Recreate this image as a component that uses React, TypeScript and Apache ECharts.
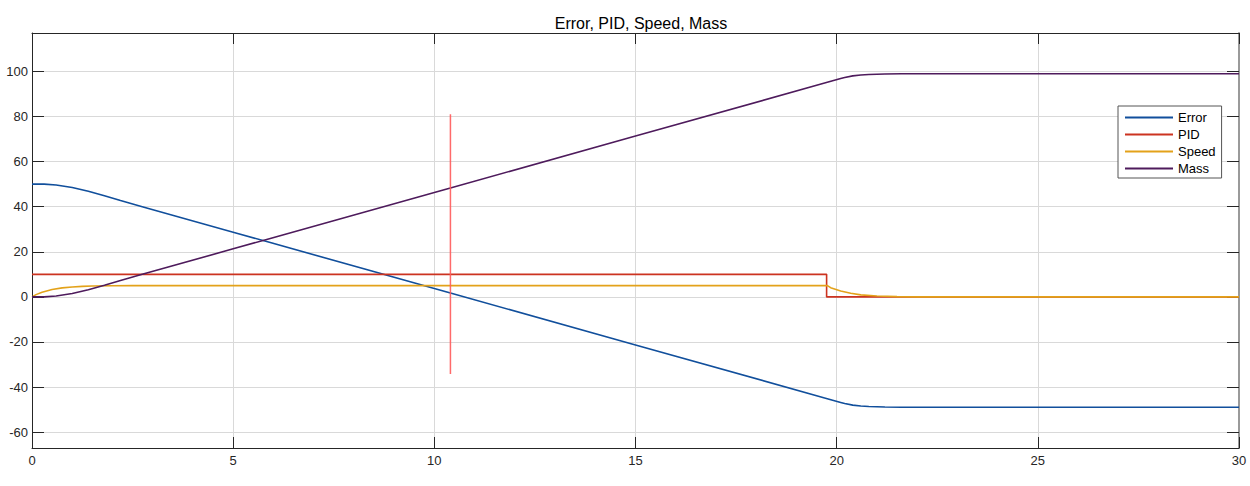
import React, { useEffect, useRef } from "react";
import * as echarts from "echarts";

const TITLE = "Error, PID, Speed, Mass";
const SERIES_NAMES = ["Error", "PID", "Speed", "Mass"];
const COLORS = ["#114f9c", "#cc3320", "#e3a21a", "#4e1b5c"];

const xTicks = [0, 5, 10, 15, 20, 25, 30];
const yTicks = [-60, -40, -20, 0, 20, 40, 60, 80, 100];

const errorTime = [0, 0.3, 0.6, 1.0, 1.4, 1.8, 2.2, 2.74, 5, 5.9, 10, 10.4, 15, 19.7, 19.9, 20.1, 20.2, 20.4, 20.6, 20.8, 21.2, 21.6, 30];
const errorValues = [50, 50, 49.6, 48.5, 46.8, 44.8, 42.7, 40, 28.7, 24.2, 3.7, 1.7, -21.3, -44.8, -45.8, -46.8, -47.3, -48.0, -48.4, -48.6, -48.8, -48.9, -48.9];

const pidTime = [0, 19.75, 19.75, 30];
const pidValues = [10, 10, 0, 0];

const speedTime = [0, 0.1, 0.25, 0.5, 0.75, 1.0, 1.25, 1.5, 2.0, 2.5, 19.77, 19.85, 20.1, 20.35, 20.6, 21.0, 21.5, 22, 30];
const speedValues = [0, 1.0, 2.1, 3.3, 4.0, 4.4, 4.65, 4.8, 4.93, 5, 5, 4.1, 2.6, 1.6, 0.9, 0.4, 0.1, 0, 0];

const massTime = [0, 0.3, 0.6, 1.0, 1.4, 1.8, 2.2, 2.74, 5, 5.9, 10, 10.4, 15, 19.7, 19.9, 20.1, 20.2, 20.4, 20.6, 20.8, 21.2, 21.6, 30];
const massValues = [0, 0, 0.4, 1.5, 3.2, 5.2, 7.3, 10, 21.3, 25.8, 46.3, 48.3, 71.3, 94.8, 95.8, 96.8, 97.3, 98.0, 98.4, 98.6, 98.8, 98.9, 98.9];

const cursorTime = [10.4, 10.4];
const cursorValues = [81, -34.2];

const X_MIN = 0;
const X_MAX = 30;
const Y_MIN = -67;
const Y_MAX = 117;

const pairs = (t: number[], v: number[]) => t.map((x, i) => [x, v[i]]);

const FONT = "'Liberation Sans', Arial, sans-serif";
const DARK = "#262626";

export default function App() {
  const ref = useRef<HTMLDivElement>(null);
  useEffect(() => {
    if (!ref.current) return;
    const chart = echarts.init(ref.current, undefined, { renderer: "svg" });
    const lineSeries = (name: string, t: number[], v: number[], color: string) => ({
      name,
      type: "line",
      data: pairs(t, v),
      showSymbol: false,
      symbol: "none",
      smooth: false,
      lineStyle: { color, width: 1.6 },
      itemStyle: { color },
      xAxisIndex: 0,
      yAxisIndex: 0,
    });
    chart.setOption({
      animation: false,
      backgroundColor: "#ffffff",
      textStyle: { fontFamily: FONT },
      title: {
        text: TITLE,
        left: 636,
        top: 10,
        textAlign: "center",
        textStyle: { fontSize: 16, fontWeight: "normal", color: "#000", fontFamily: FONT },
      },
      legend: {
        data: SERIES_NAMES,
        orient: "vertical",
        left: 1118,
        top: 106,
        itemWidth: 48,
        itemHeight: 13,
        itemGap: 4,
        padding: [5, 6, 3, 6],
        borderColor: "#555",
        borderWidth: 1,
        borderRadius: 0,
        backgroundColor: "#fff",
        itemStyle: { opacity: 0, borderWidth: 0 },
        textStyle: { fontSize: 13, color: "#000", fontFamily: FONT },
      },
      grid: { left: 32, right: 11, top: 33, bottom: 38, containLabel: false },
      xAxis: [
        {
          type: "value",
          min: X_MIN,
          max: X_MAX,
          interval: 5,
          position: "bottom",
          axisLine: { show: true, onZero: false, lineStyle: { color: DARK, width: 1 } },
          axisTick: { show: true, inside: true, length: 11, lineStyle: { color: DARK } },
          axisLabel: {
            customValues: xTicks,
            fontSize: 13,
            color: DARK,
            margin: 6,
            fontFamily: FONT,
          },
          splitLine: { show: true, lineStyle: { color: "#d9d9d9", width: 1 } },
        },
        {
          type: "value",
          min: X_MIN,
          max: X_MAX,
          interval: 5,
          position: "top",
          axisLine: { show: true, onZero: false, lineStyle: { color: DARK, width: 1 } },
          axisTick: { show: true, inside: true, length: 11, lineStyle: { color: DARK } },
          axisLabel: { show: false },
          splitLine: { show: false },
        },
      ],
      yAxis: [
        {
          type: "value",
          min: Y_MIN,
          max: Y_MAX,
          splitNumber: 9,
          position: "left",
          axisLine: { show: true, onZero: false, lineStyle: { color: DARK, width: 1 } },
          axisTick: { show: true, inside: true, length: 12, lineStyle: { color: DARK } },
          axisLabel: {
            customValues: yTicks,
            fontSize: 13,
            color: DARK,
            margin: 4,
            fontFamily: FONT,
          },
          splitLine: { show: true, lineStyle: { color: "#d9d9d9", width: 1 } },
        },
        {
          type: "value",
          min: Y_MIN,
          max: Y_MAX,
          splitNumber: 9,
          position: "right",
          axisLine: { show: true, onZero: false, lineStyle: { color: "#9a9a9a", width: 2 } },
          axisTick: { show: true, inside: true, length: 12, lineStyle: { color: DARK } },
          axisLabel: { show: false },
          splitLine: { show: false },
        },
      ],
      series: [
        lineSeries(SERIES_NAMES[0], errorTime, errorValues, COLORS[0]),
        lineSeries(SERIES_NAMES[1], pidTime, pidValues, COLORS[1]),
        lineSeries(SERIES_NAMES[2], speedTime, speedValues, COLORS[2]),
        lineSeries(SERIES_NAMES[3], massTime, massValues, COLORS[3]),
        {
          name: "cursor",
          type: "line",
          data: pairs(cursorTime, cursorValues),
          symbol: "none",
          silent: true,
          lineStyle: { color: "#ff5a5a", width: 1.5, opacity: 0.9 },
        },
      ],
    });
    return () => chart.dispose();
  }, []);
  return (
    <div
      ref={ref}
      style={{ position: "absolute", left: 0, top: 0, width: 1250, height: 486 }}
    />
  );
}
